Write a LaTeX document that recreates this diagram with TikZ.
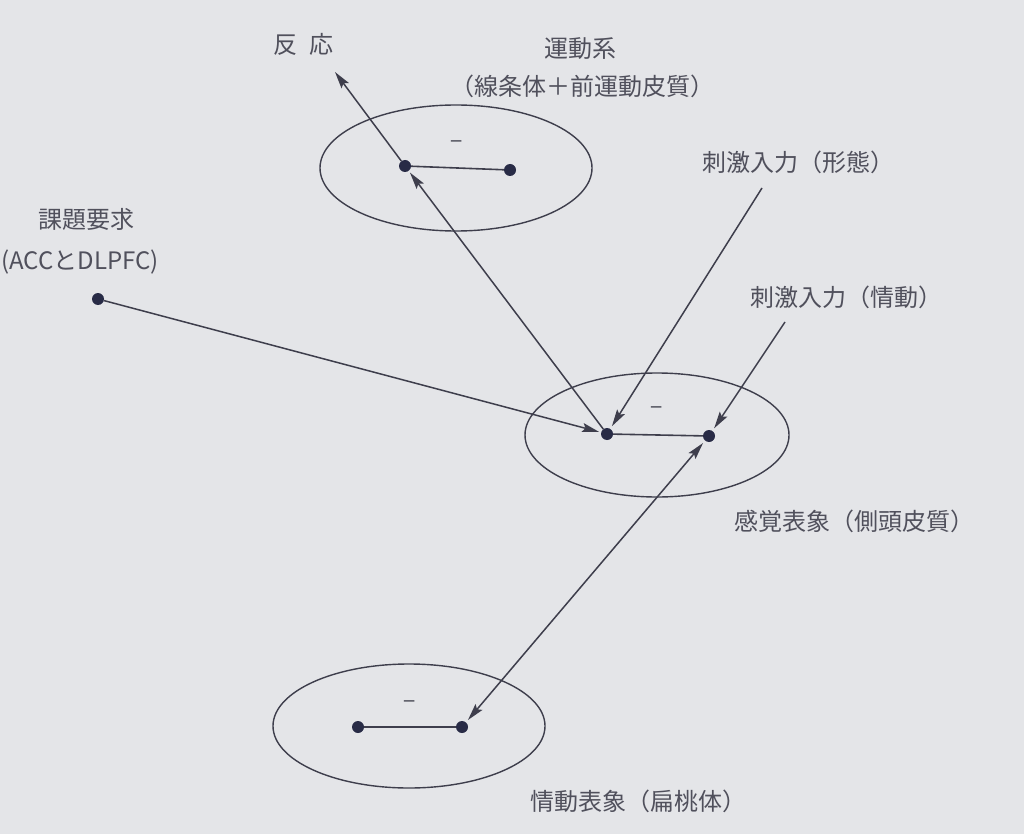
\documentclass[tikz,border=0pt]{standalone}
\usepackage{fontspec}
\setmainfont{Noto Sans CJK JP}
\usetikzlibrary{shapes.geometric,arrows.meta}
\definecolor{bg}{RGB}{228,229,232}
\definecolor{ln}{RGB}{62,62,76}
\definecolor{dotc}{RGB}{40,43,70}
\definecolor{tx}{RGB}{80,80,92}
\tikzset{
  area/.style={draw=ln, line width=1.4pt, ellipse, inner sep=0pt},
  dotn/.style={circle, fill=dotc, inner sep=0pt, minimum size=12pt},
  link/.style={draw=ln, line width=1.6pt},
  arr/.style={draw=ln, line width=1.5pt, -{Stealth[length=17pt,width=9pt,inset=3pt]}},
  darr/.style={draw=ln, line width=1.5pt, {Stealth[length=17pt,width=9pt,inset=3pt]}-{Stealth[length=17pt,width=9pt,inset=3pt]}},
  lab/.style={text=tx, font=\fontsize{24}{28}\selectfont, inner sep=0pt},
  minus/.style={text=tx, font=\fontsize{22}{22}\selectfont, inner sep=0pt}
}
\begin{document}
\begin{tikzpicture}[x=1pt,y=-1pt]
\fill[bg] (0,0) rectangle (1024,834);
\useasboundingbox (0,0) rectangle (1024,834);
% ellipses
\node[area, minimum width=272pt, minimum height=126pt] (E1) at (456,168) {};
\node[area, minimum width=264pt, minimum height=124pt] (E2) at (657,435) {};
\node[area, minimum width=272pt, minimum height=124pt] (E3) at (409,726) {};
% dots
\node[dotn] (ta) at (405,166) {};
\node[dotn] (tb) at (510,170) {};
\node[dotn] (ma) at (607,434) {};
\node[dotn] (mb) at (709,436) {};
\node[dotn] (ba) at (358,727) {};
\node[dotn] (bb) at (462,727) {};
\node[dotn] (task) at (98,299) {};
% minus signs
\node[minus] (m1) at (457,145) {−};
\node[minus] (m2) at (657,411) {−};
\node[minus] (m3) at (410,705) {−};
% links
\draw[link] (ta) -- (tb);
\draw[link] (ma) -- (mb);
\draw[link] (ba) -- (bb);
% coordinates
\coordinate (resp) at (335,72);
\coordinate (s1) at (762,188);
\coordinate (s2) at (785,322);
% arrows
\draw[arr, shorten >=2pt] (task) -- (ma);
\draw[arr, shorten >=2pt] (ma) -- (ta);
\draw[arr] (ta) -- (resp);
\draw[arr, shorten >=3pt] (s1) -- (ma);
\draw[arr, shorten >=3pt] (s2) -- (mb);
\draw[darr, shorten >=3pt, shorten <=3pt] (bb) -- (mb);
% labels
\node[lab] (l1) at (303,44) {反\hspace{0.5em}応};
\node[lab] (l2) at (580,49) {運動系};
\node[lab] (l3) at (582,86) {（線条体＋前運動皮質）};
\node[lab] (l4) at (798,162) {刺激入力（形態）};
\node[lab] (l5) at (86,219) {課題要求};
\node[lab, anchor=west] (l6) at (1,262) {(ACCとDLPFC)};
\node[lab] (l7) at (846,297) {刺激入力（情動）};
\node[lab] (l8) at (854,521) {感覚表象（側頭皮質）};
\node[lab] (l9) at (638,801) {情動表象（扁桃体）};
\end{tikzpicture}
\end{document}
